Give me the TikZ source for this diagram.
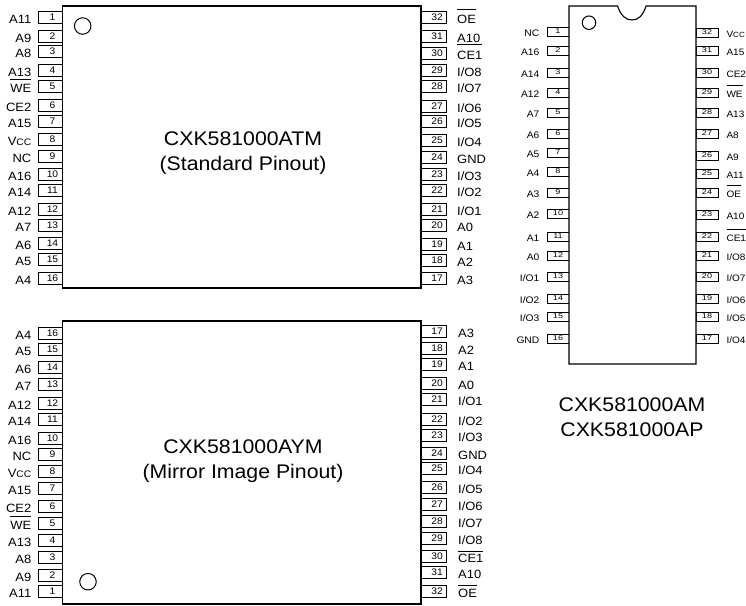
\documentclass[tikz,border=0pt]{standalone}
\usepackage{fontspec}
\setmainfont[FakeStretch=1.08]{Liberation Sans}
\newfontfamily\dipnum[FakeStretch=1.3]{Liberation Sans}
\newcommand\ovl[2][10]{\setbox0\hbox{#2}\rlap{\raisebox{#1pt}{\rule{\wd0}{.6pt}}}\box0}
\newcommand\vccL{V{\fontsize{9.5}{10}\selectfont CC}}
\newcommand\vccS{V{\fontsize{7.5}{9}\selectfont CC}}
\begin{document}
\begin{tikzpicture}[x=1pt,y=-1pt,
  body/.style={draw=black,line width=1.1pt,fill=white},
  pinbox/.style={draw=black,line width=.8pt,fill=white,minimum width=25pt,minimum height=12pt,inner sep=0pt,font=\fontsize{9.5}{10}\selectfont},
  dippin/.style={draw=black,line width=.8pt,fill=white,minimum width=22pt,minimum height=9pt,inner sep=0pt,font=\dipnum\fontsize{7}{8}\selectfont},
  lab/.style={inner sep=0pt,font=\fontsize{12}{13}\selectfont},
  diplab/.style={inner sep=0pt,font=\fontsize{9.5}{11}\selectfont},
  diplabr/.style={inner sep=0pt,font=\fontsize{9.3}{11}\selectfont},
  title/.style={inner sep=0pt,align=center,font=\fontsize{19.7}{25}\selectfont},
  mark1/.style={draw=black,line width=1pt,circle,minimum size=16.5pt,inner sep=0pt},
  mark2/.style={draw=black,line width=1pt,circle,minimum size=13.5pt,inner sep=0pt}]
\useasboundingbox (0,0) rectangle (746,605);
% top flat package pins
\foreach \n/\t/\b in {1/A11/23,2/A9/42,3/A8/57.5,4/A13/76.5,5/\ovl[12.5]{WE}/92.5,6/CE2/111.5,7/A15/127.5,8/\vccL/145.5,9/NC/162,10/A16/180.5,11/A14/196.5,12/A12/215,13/A7/231.5,14/A6/249,15/A5/265,16/A4/284}{
  \node[pinbox] (tl\n) at (50.5,\b-6) {\hspace*{4pt}\n};
  \node[lab,anchor=base east] (tlL\n) at (31.5,\b) {\t};
}
\foreach \n/\t/\b in {32/\ovl[14]{OE}/23.5,31/A10/42.5,30/\ovl[14.5]{CE1}/59,29/{I/O8}/76.5,28/{I/O7}/92,27/{I/O6}/112,26/{I/O5}/127.5,25/{I/O4}/146,24/GND/163,23/{I/O3}/180.5,22/{I/O2}/196,21/{I/O1}/215,20/A0/231.5,19/A1/250.5,18/A2/266.5,17/A3/284}{
  \node[pinbox] (tr\n) at (433.5,\b-6) {\hspace*{7pt}\raisebox{-1.5pt}{\n}};
  \node[lab,anchor=base west] (trL\n) at (457,\b) {\t};
}
\draw[body] (62.5,6) rectangle (421,288);
\node[mark1] (tmark) at (82.7,26) {};
\node[title] (ttitle) at (243,153) {CXK581000ATM\\(Standard Pinout)};
% bottom flat package pins
\foreach \n/\t/\b in {16/A4/339,15/A5/355.5,14/A6/373,13/A7/390,12/A12/409,11/A14/425,10/A16/444,9/NC/460,8/\vccL/477,7/A15/494,6/CE2/512.5,5/\ovl[12.5]{WE}/529,4/A13/546.5,3/A8/563,2/A9/581.5,1/A11/597}{
  \node[pinbox] (bl\n) at (50.5,\b-6) {\hspace*{4pt}\n};
  \node[lab,anchor=base east] (blL\n) at (31.5,\b) {\t};
}
\foreach \n/\t/\b in {17/A3/337.5,18/A2/354,19/A1/370.5,20/A0/389,21/{I/O1}/405.5,22/{I/O2}/425,23/{I/O3}/441,24/GND/459,25/{I/O4}/474,26/{I/O5}/493,27/{I/O6}/510,28/{I/O7}/527.5,29/{I/O8}/544,30/\ovl[10.5]{CE1}/562,31/A10/578.5,32/\ovl[11]{OE}/597}{
  \node[pinbox] (br\n) at (433.5,\b-6) {\hspace*{7pt}\raisebox{-1.5pt}{\n}};
  \node[lab,anchor=base west] (brL\n) at (458,\b) {\t};
}
\draw[body] (62.5,321) rectangle (421,604);
\node[mark1] (bmark) at (88,581.7) {};
\node[title] (btitle) at (243,461) {CXK581000AYM\\(Mirror Image Pinout)};
% DIP package pins
\foreach \n/\t/\b in {1/NC/36.5,2/A16/55,3/A14/77,4/A12/97,5/A7/117,6/A6/138,7/A5/157,8/A4/176.5,9/A3/197,10/A2/218,11/A1/241.5,12/A0/260.5,13/{I/O1}/281.5,14/{I/O2}/303,15/{I/O3}/321.5,16/GND/343}{
  \node[dippin] (dl\n) at (558,\b-4.5) {\raisebox{1.5pt}{\n}};
  \node[diplab,anchor=base east] (dlL\n) at (539.5,\b) {\t};
}
\foreach \n/\t/\b in {32/\vccS/37,31/A15/55,30/CE2/77,29/\ovl[11]{WE}/97,28/A13/117,27/A8/138,26/A9/160,25/A11/178,24/\ovl[11]{OE}/197,23/A10/219,22/\ovl[11.5]{CE1}/241.5,21/{I/O8}/260.5,20/{I/O7}/281.5,19/{I/O6}/303,18/{I/O5}/321.5,17/{I/O4}/343}{
  \node[dippin] (dr\n) at (707,\b-4.5) {\raisebox{1.5pt}{\n}};
  \node[diplabr,anchor=base west] (drL\n) at (726.3,\b) {\t};
}
\draw[body] (569,6) -- (617.5,6) .. controls (621,16) and (626,20) .. (632,20) .. controls (638,20) and (643,16) .. (646,6) -- (696,6) -- (696,364) -- (569,364) -- cycle;
\node[mark2] (dmark) at (589,22.7) {};
\node[title] (dtitle) at (632,417) {CXK581000AM\\CXK581000AP};
\end{tikzpicture}
\end{document}
